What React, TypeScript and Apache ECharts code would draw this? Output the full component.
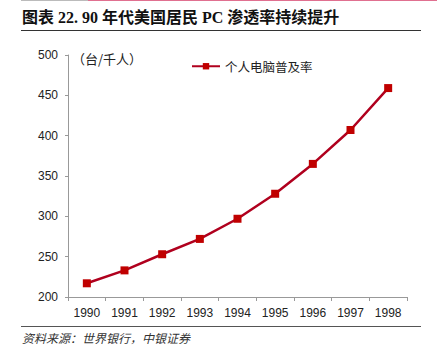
import React, { useEffect, useRef } from "react";
import * as echarts from "echarts";

const years = ["1990", "1991", "1992", "1993", "1994", "1995", "1996", "1997", "1998"];
const pcPenetration = [217, 233, 253, 272, 297, 328, 365, 407, 459];
const seriesName = "个人电脑普及率";
const titleText = "图表 22. 90 年代美国居民 PC 渗透率持续提升";
const unitText = "（台/千人）";
const sourceText = "资料来源：世界银行，中银证券";

export default function App() {
  const ref = useRef<HTMLDivElement>(null);
  useEffect(() => {
    const chart = echarts.init(ref.current!, null, { renderer: "svg" });
    chart.setOption({
      animation: false,
      backgroundColor: "#fff",
      grid: { left: 68, right: 30, top: 55, bottom: 56 },
      legend: {
        data: [seriesName],
        left: 186,
        top: 55,
        itemWidth: 28,
        itemHeight: 8,
        itemGap: 4,
        textStyle: { fontFamily: "Noto Sans CJK SC", fontSize: 12.5, color: "#222" },
      },
      xAxis: {
        type: "category",
        data: years,
        boundaryGap: true,
        axisLine: { lineStyle: { color: "#999", width: 1 } },
        axisTick: { show: true, alignWithLabel: false, length: 4, lineStyle: { color: "#999" } },
        axisLabel: { color: "#222", fontFamily: "Liberation Sans", fontSize: 12, margin: 10 },
      },
      yAxis: {
        type: "value",
        min: 200,
        max: 500,
        interval: 50,
        splitLine: { show: false },
        axisLine: { show: true, lineStyle: { color: "#999", width: 1 } },
        axisTick: { show: true, length: 3, lineStyle: { color: "#999" } },
        axisLabel: { color: "#222", fontFamily: "Liberation Sans", fontSize: 12, margin: 10 },
      },
      series: [
        {
          name: seriesName,
          type: "line",
          data: pcPenetration,
          symbol: "rect",
          symbolSize: 8,
          lineStyle: { color: "#B0001E", width: 2.5 },
          itemStyle: { color: "#C00000" },
        },
      ],
      graphic: [
        { type: "line", shape: { x1: 21, y1: 0.5, x2: 88, y2: 0.5 }, style: { stroke: "#bbb", lineWidth: 1 } },
        { type: "line", shape: { x1: 88, y1: 0.5, x2: 437, y2: 0.5 }, style: { stroke: "#E07090", lineWidth: 1 } },
        {
          type: "text",
          left: 22,
          top: 9,
          style: {
            text: titleText,
            fontFamily: "Liberation Serif, Noto Sans CJK SC",
            fontWeight: "bold",
            fontSize: 16,
            fill: "#111",
          },
        },
        { type: "line", shape: { x1: 21, y1: 30.5, x2: 421, y2: 30.5 }, style: { stroke: "#333", lineWidth: 1 } },
        {
          type: "text",
          left: 72,
          top: 52,
          style: { text: unitText, fontFamily: "Noto Sans CJK SC", fontSize: 13, fill: "#222" },
        },
        { type: "line", shape: { x1: 21, y1: 326.5, x2: 421, y2: 326.5 }, style: { stroke: "#555", lineWidth: 1 } },
        {
          type: "text",
          left: 22,
          top: 331,
          style: {
            text: sourceText,
            fontFamily: "Noto Sans CJK SC",
            fontStyle: "italic",
            fontSize: 12,
            fill: "#333",
          },
        },
      ],
    });
    return () => chart.dispose();
  }, []);
  return <div ref={ref} style={{ width: 437, height: 353, position: "absolute", left: 0, top: 0 }} />;
}
